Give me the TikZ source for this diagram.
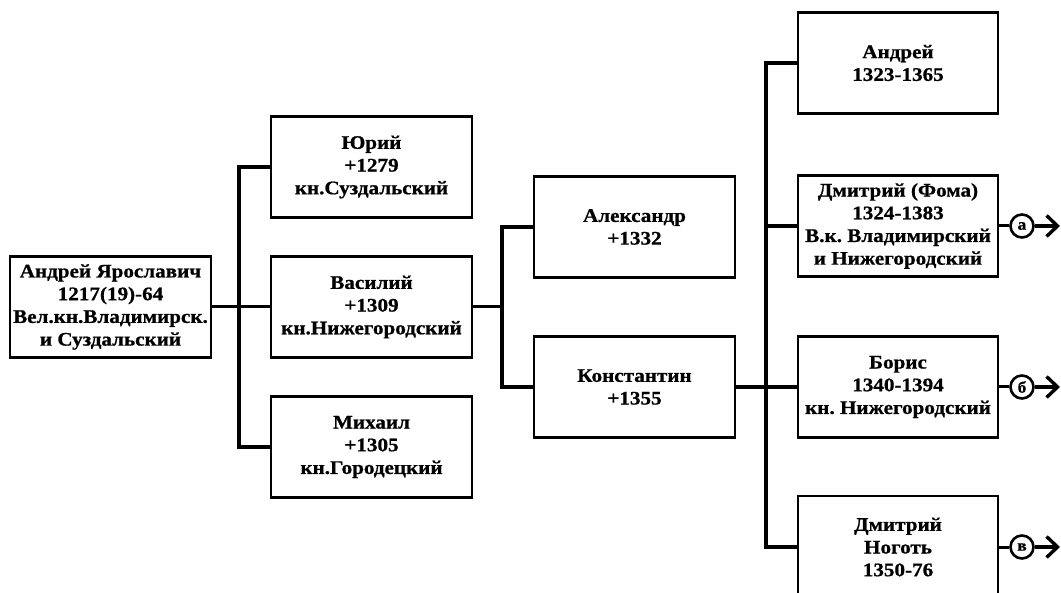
\documentclass[tikz,border=0pt]{standalone}
\usepackage{fontspec}
\setmainfont{Liberation Serif}[FakeStretch=1.1, BoldFeatures={FakeBold=0.8}]
\usetikzlibrary{arrows.meta}
\frenchspacing
\tikzset{
  pbox/.style={draw, line width=2.4pt, rectangle, minimum width=201pt, minimum height=101pt,
    inner sep=0pt, align=center, font=\bfseries\fontsize{19.2}{22.7}\selectfont},
  trunk/.style={line width=3.8pt},
  thinlink/.style={line width=3pt},
  mark circ/.style={draw, circle, line width=2.6pt, minimum size=23pt, inner sep=0pt,
    font=\bfseries\fontsize{16}{16}\selectfont},
  outarrow/.style={line width=3.4pt, -{Straight Barb[length=11pt,width=21pt]}}
}
\begin{document}
\begin{tikzpicture}[x=1pt,y=-1pt]
\useasboundingbox (0,0) rectangle (1061,593);
\node[pbox] (root) at (110.5,307) {Андрей Ярославич\\1217(19)-64\\Вел.кн.Владимирск.\\и Суздальский};
\node[pbox] (yuriy) at (371.5,167) {Юрий\\+1279\\кн.Суздальский};
\node[pbox] (vasiliy) at (371.5,307) {Василий\\+1309\\кн.Нижегородский};
\node[pbox] (mikhail) at (371.5,447) {Михаил\\+1305\\кн.Городецкий};
\node[pbox] (alex) at (634.5,227) {Александр\\+1332};
\node[pbox] (konst) at (634.5,387) {Константин\\+1355};
\node[pbox, minimum width=200pt] (andrey) at (898,63) {Андрей\\1323-1365};
\node[pbox, minimum width=200pt] (foma) at (898,226) {Дмитрий (Фома)\\1324-1383\\В.к. Владимирский\\и Нижегородский};
\node[pbox, minimum width=200pt] (boris) at (898,387) {Борис\\1340-1394\\кн. Нижегородский};
\node[pbox, minimum width=200pt, minimum height=102pt] (nogot) at (898,547) {Дмитрий\\Ноготь\\1350-76};

\node[mark circ] (ca) at (1022,226) {а};
\node[mark circ] (cb) at (1022,387) {б};
\node[mark circ] (cv) at (1022,547) {в};
\coordinate (ea) at (1060,226);
\coordinate (eb) at (1060,387);
\coordinate (ev) at (1060,547);

% level 1
\draw[thinlink] (root.east) -- (vasiliy.west);
\draw[trunk] (yuriy.west) -- +(-31,0) |- (mikhail.west);
% level 2
\coordinate (t2) at (503,307);
\draw[thinlink] (vasiliy.east) -- (t2);
\draw[trunk] (alex.west) -- +(-31,0) |- (konst.west);
% level 3
\draw[trunk] (konst.east) -- (boris.west);
\draw[trunk] (andrey.west) -- +(-31,0) |- (nogot.west);
\draw[trunk] (foma.west) -- +(-31,0);
% outgoing
\draw[thinlink] (foma.east) -- (ca.west);
\draw[thinlink] (boris.east) -- (cb.west);
\draw[thinlink] (nogot.east) -- (cv.west);
\draw[outarrow] (ca.east) -- (ea);
\draw[outarrow] (cb.east) -- (eb);
\draw[outarrow] (cv.east) -- (ev);
\end{tikzpicture}
\end{document}
